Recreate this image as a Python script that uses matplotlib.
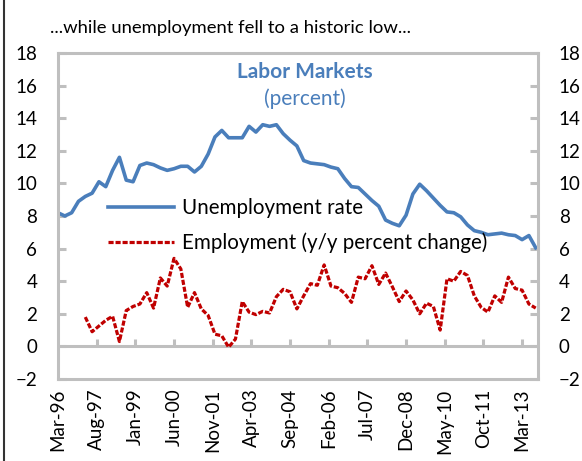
import matplotlib.pyplot as plt
import numpy as np
from matplotlib.lines import Line2D

plt.rcParams['font.family'] = ['Lato', 'DejaVu Sans']

# quarterly observations, months counted from Mar-96
months = np.arange(0, 211, 3)

unemployment = [8.2, 8.0, 8.2, 8.9, 9.2, 9.4, 10.1, 9.8, 10.8, 11.6,
                10.2, 10.1, 11.1, 11.25, 11.15, 10.95, 10.8, 10.9, 11.05, 11.05,
                10.7, 11.05, 11.8, 12.85, 13.25, 12.8, 12.8, 12.8, 13.5, 13.15,
                13.6, 13.5, 13.6, 13.05, 12.65, 12.3, 11.4, 11.25, 11.2, 11.15,
                11.0, 10.9, 10.3, 9.8, 9.75, 9.35, 8.95, 8.6, 7.75, 7.55,
                7.4, 8.05, 9.35, 9.95, 9.55, 9.1, 8.65, 8.25, 8.2, 7.95,
                7.45, 7.1, 7.0, 6.85, 6.9, 6.95, 6.85, 6.8, 6.55, 6.8,
                6.05]

employment = [np.nan, np.nan, np.nan, np.nan,
              1.8, 0.9, 1.25, 1.6, 1.85, 0.3, 2.2, 2.45, 2.6, 3.3,
              2.35, 4.2, 3.7, 5.4, 4.75, 2.4, 3.3, 2.3, 1.9, 0.75,
              0.65, -0.05, 0.45, 2.75, 2.1, 1.95, 2.15, 2.05, 3.05, 3.5,
              3.35, 2.3, 3.1, 3.85, 3.75, 5.0, 3.7, 3.6, 3.25, 2.7,
              4.25, 4.15, 4.95, 3.8, 4.5, 3.65, 2.75, 3.4, 2.85, 2.0,
              2.65, 2.45, 1.0, 4.15, 4.0, 4.6, 4.35, 3.1, 2.4, 2.1,
              3.1, 2.7, 4.25, 3.55, 3.45, 2.6, 2.35]

tick_months = np.arange(0, 205, 17)
tick_labels = ['Mar-96', 'Aug-97', 'Jan-99', 'Jun-00', 'Nov-01', 'Apr-03',
               'Sep-04', 'Feb-06', 'Jul-07', 'Dec-08', 'May-10', 'Oct-11',
               'Mar-13']

blue = '#4A7EBB'
red = '#C00000'
grey = '#BFBFBF'

fig = plt.figure(figsize=(5.82, 4.61), dpi=100)
ax = fig.add_axes([58 / 582, 1 - 379 / 461, 480 / 582, 326 / 461])

ax.plot(months, unemployment, color=blue, lw=2.6, label='Unemployment rate',
        solid_joinstyle='round')
ax.plot(months, employment, color=red, lw=2.3, dashes=(1.6, 0.6),
        label='Employment (y/y percent change)')

ax.set_xlim(0, 211)
ax.set_ylim(-2, 18)
ax.set_yticks(np.arange(-2, 19, 2))
ax.set_xticks(tick_months)
ax.set_xticklabels(tick_labels, rotation=90, fontsize=13.5)

for s in ax.spines.values():
    s.set_color(grey)
    s.set_linewidth(2.2)

ax.tick_params(axis='y', direction='in', length=6, width=2.2, color=grey,
               labelsize=13.5, pad=15, right=True, labelright=True)
ax.tick_params(axis='x', length=0, pad=7)

# zero line with small upward ticks
ax.axhline(0, color=grey, lw=2.2, zorder=1)
ax.vlines(tick_months[1:], 0, 0.45, color=grey, lw=2.2, zorder=1)

ax.text(305 / 582, 1 - 72 / 461, 'Labor Markets', transform=fig.transFigure,
        ha='center', va='center', fontsize=15, fontweight='bold', color=blue)
ax.text(305 / 582, 1 - 99 / 461, '(percent)', transform=fig.transFigure,
        ha='center', va='center', fontsize=15, color=blue)

leg = ax.legend(loc='upper left', bbox_to_anchor=(108 / 582, 1 - 198 / 461),
                bbox_transform=fig.transFigure, frameon=False, fontsize=14.8,
                handlelength=3.2, handletextpad=0.4, labelspacing=0.7,
                borderpad=0, borderaxespad=0)

fig.text(50 / 582, 1 - 33 / 461,
         '...while unemployment fell to a historic low...',
         ha='left', va='baseline', fontsize=13.3)

fig.add_artist(Line2D([3.5 / 582, 3.5 / 582], [0, 1], color='#333333', lw=1.5,
                      transform=fig.transFigure))

fig.savefig('out.png', dpi=100)
